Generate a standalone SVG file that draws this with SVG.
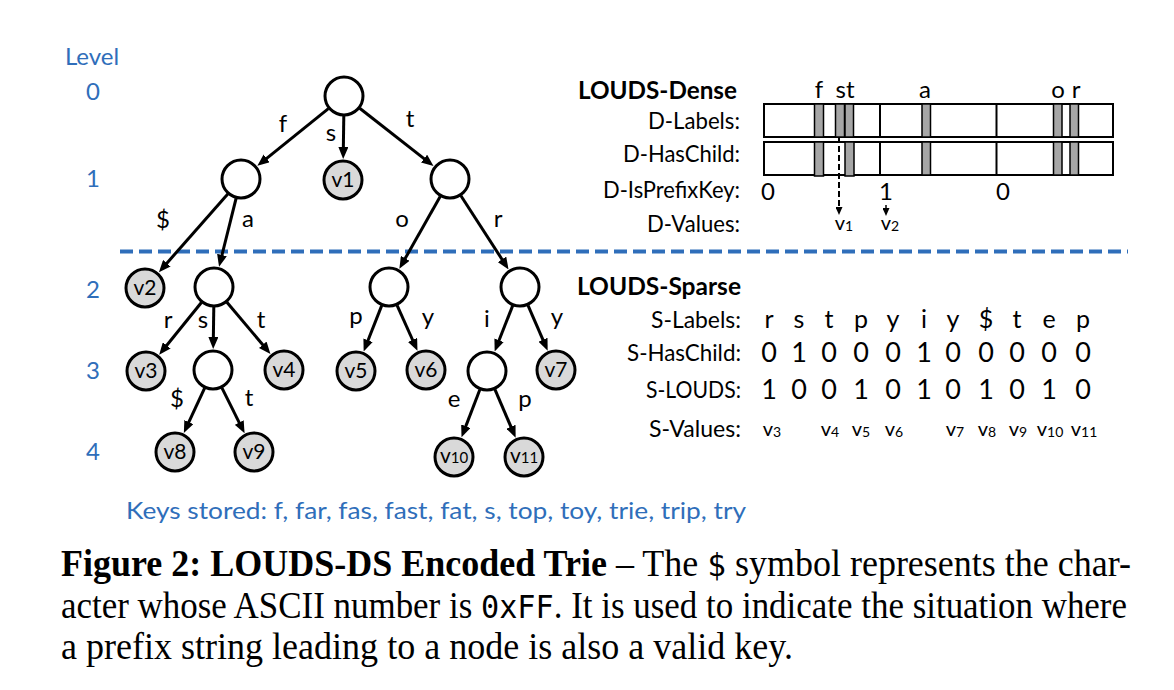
<svg xmlns="http://www.w3.org/2000/svg" width="1174" height="690" viewBox="0 0 1174 690">
<style>
.bg{fill:#ffffff}
.cal{font-family:Lato,"Liberation Sans",sans-serif;fill:#000}
.blue{fill:#2F6EBA}
.edge{stroke:#000;stroke-width:3;fill:none;marker-end:url(#ah)}
.inner{fill:#fff;stroke:#000;stroke-width:3}
.leaf{fill:#D9D9D9;stroke:#000;stroke-width:3}
.nt{font-family:Lato,"Liberation Sans",sans-serif;font-size:21px;text-anchor:middle;fill:#000}
.el{font-family:Lato,"Liberation Sans",sans-serif;font-size:24px;text-anchor:middle;fill:#000}
.lab{font-family:Lato,"Liberation Sans",sans-serif;font-size:24px;text-anchor:end;fill:#000}
.ttl{font-family:Lato,"Liberation Sans",sans-serif;font-size:25px;font-weight:bold;fill:#000}
.box{fill:#fff;stroke:#000;stroke-width:2}
.bar{fill:#A6A6A6;stroke:#000;stroke-width:1.5}
.div{stroke:#000;stroke-width:2}
.sl{font-family:Lato,"Liberation Sans",sans-serif;font-size:25px;text-anchor:middle;fill:#000}
.sd{font-family:Lato,"Liberation Sans",sans-serif;font-size:27px;text-anchor:middle;fill:#000}
.val{font-family:Lato,"Liberation Sans",sans-serif;font-size:20px;text-anchor:middle;fill:#000}
.cap{font-family:"Liberation Serif",serif;font-size:37px;fill:#000}
.mono{font-family:"DejaVu Sans Mono",monospace;font-size:32px}
</style>
<defs>
<marker id="ah" viewBox="0 0 12 10" markerWidth="12" markerHeight="10" refX="4" refY="5" orient="auto" markerUnits="userSpaceOnUse">
<path d="M0,0 L12,5 L0,10 z" fill="#000"/>
</marker>
<marker id="sah" viewBox="0 0 8 7" markerWidth="8" markerHeight="7" refX="2" refY="3.5" orient="auto" markerUnits="userSpaceOnUse">
<path d="M0,0 L8,3.5 L0,7 z" fill="#000"/>
</marker>
</defs>
<rect class="bg" x="0" y="0" width="1174" height="690"/>

<!-- Level labels -->
<g id="levels" class="cal blue" font-size="24" text-anchor="middle">
<text x="92" y="65" class="blue">Level</text>
<text x="93" y="100" class="blue">0</text>
<text x="93" y="187" class="blue">1</text>
<text x="93" y="298" class="blue">2</text>
<text x="93" y="379" class="blue">3</text>
<text x="93" y="460" class="blue">4</text>
</g>

<!-- Separator -->
<line id="separator" x1="120" y1="251.5" x2="1128" y2="251.5" stroke="#2F6EBA" stroke-width="4" stroke-dasharray="13,6"/>

<!-- Connectors -->
<g id="connectors">
<line class="edge" x1="328.4" y1="108.6" x2="263.6" y2="160.8"/>
<line class="edge" x1="343.8" y1="116" x2="343.3" y2="151"/>
<line class="edge" x1="359.7" y1="108.3" x2="427.2" y2="161.1"/>
<line class="edge" x1="227.8" y1="194" x2="164.2" y2="266.2"/>
<line class="edge" x1="236.1" y1="198.4" x2="221" y2="258.9"/>
<line class="edge" x1="440.2" y1="196.4" x2="403.3" y2="261.8"/>
<line class="edge" x1="460.9" y1="195.8" x2="504.2" y2="262.7"/>
<line class="edge" x1="201.4" y1="302.5" x2="164.2" y2="348.5"/>
<line class="edge" x1="213.8" y1="307" x2="213.3" y2="341"/>
<line class="edge" x1="226.9" y1="302.3" x2="265.3" y2="347.8"/>
<line class="edge" x1="381.7" y1="305.6" x2="366.6" y2="344"/>
<line class="edge" x1="397.1" y1="305.3" x2="414.2" y2="343.5"/>
<line class="edge" x1="512.7" y1="305.6" x2="497.6" y2="344"/>
<line class="edge" x1="528" y1="305.3" x2="544.5" y2="343.4"/>
<line class="edge" x1="204.6" y1="388.1" x2="187.2" y2="425.7"/>
<line class="edge" x1="221.9" y1="387.9" x2="241" y2="426.1"/>
<line class="edge" x1="479.8" y1="389.7" x2="464.4" y2="429.9"/>
<line class="edge" x1="494.9" y1="389.4" x2="512.5" y2="430.4"/>
</g>

<!-- Edge labels -->
<g id="edge-labels" class="el">
<text class="el" x="283" y="132">f</text>
<text class="el" x="331" y="141">s</text>
<text class="el" x="410" y="127">t</text>
<text class="el" x="163" y="228">$</text>
<text class="el" x="248" y="227">a</text>
<text class="el" x="402" y="227">o</text>
<text class="el" x="498" y="227">r</text>
<text class="el" x="168" y="328">r</text>
<text class="el" x="203" y="328">s</text>
<text class="el" x="261" y="328">t</text>
<text class="el" x="356" y="324">p</text>
<text class="el" x="428" y="325">y</text>
<text class="el" x="487" y="327">i</text>
<text class="el" x="557" y="325">y</text>
<text class="el" x="177" y="407">$</text>
<text class="el" x="249" y="406">t</text>
<text class="el" x="454" y="407">e</text>
<text class="el" x="525" y="407">p</text>
</g>

<!-- Nodes -->
<g id="n-root"><circle class="inner" cx="344" cy="96" r="19"/></g>
<g id="n-f"><circle class="inner" cx="241" cy="179" r="19"/></g>
<g id="n-v1"><circle class="leaf" cx="343" cy="180" r="19"/><text class="nt" x="343" y="187">v1</text></g>
<g id="n-t"><circle class="inner" cx="450" cy="179" r="19"/></g>
<g id="n-v2"><circle class="leaf" cx="145" cy="288" r="19"/><text class="nt" x="145" y="295">v2</text></g>
<g id="n-fa"><circle class="inner" cx="214" cy="287" r="19"/></g>
<g id="n-to"><circle class="inner" cx="389" cy="287" r="19"/></g>
<g id="n-tr"><circle class="inner" cx="520" cy="287" r="19"/></g>
<g id="n-v3"><circle class="leaf" cx="146" cy="371" r="19"/><text class="nt" x="146" y="378">v3</text></g>
<g id="n-fas"><circle class="inner" cx="213" cy="370" r="19"/></g>
<g id="n-v4"><circle class="leaf" cx="284" cy="370" r="19"/><text class="nt" x="284" y="377">v4</text></g>
<g id="n-v5"><circle class="leaf" cx="356" cy="371" r="19"/><text class="nt" x="356" y="378">v5</text></g>
<g id="n-v6"><circle class="leaf" cx="426" cy="370" r="19"/><text class="nt" x="426" y="377">v6</text></g>
<g id="n-tri"><circle class="inner" cx="487" cy="371" r="19"/></g>
<g id="n-v7"><circle class="leaf" cx="556" cy="370" r="19"/><text class="nt" x="556" y="377">v7</text></g>
<g id="n-v8"><circle class="leaf" cx="175" cy="452" r="19"/><text class="nt" x="175" y="459">v8</text></g>
<g id="n-v9"><circle class="leaf" cx="254" cy="452" r="19"/><text class="nt" x="254" y="459">v9</text></g>
<g id="n-v10"><circle class="leaf" cx="454" cy="457" r="19"/><text class="nt" x="454" y="463">v<tspan font-size="15">10</tspan></text></g>
<g id="n-v11"><circle class="leaf" cx="524" cy="457" r="19"/><text class="nt" x="524" y="463">v<tspan font-size="15">11</tspan></text></g>

<!-- LOUDS-Dense -->
<g id="louds-dense">
<text class="ttl" x="578" y="99" textLength="159" lengthAdjust="spacingAndGlyphs">LOUDS-Dense</text>
<text class="lab" x="740" y="129" textLength="92" lengthAdjust="spacingAndGlyphs">D-Labels:</text>
<text class="lab" x="740" y="162" textLength="117" lengthAdjust="spacingAndGlyphs">D-HasChild:</text>
<text class="lab" x="740" y="198" textLength="137" lengthAdjust="spacingAndGlyphs">D-IsPrefixKey:</text>
<text class="lab" x="740" y="232" textLength="93" lengthAdjust="spacingAndGlyphs">D-Values:</text>
<g class="el">
<text class="el" x="819" y="98">f</text>
<text class="el" x="845" y="98">st</text>
<text class="el" x="925" y="98">a</text>
<text class="el" x="1058" y="98">o</text>
<text class="el" x="1076" y="98">r</text>
</g>
<rect class="box" x="764" y="104" width="349" height="33"/>
<line class="div" x1="880" y1="104" x2="880" y2="137"/>
<line class="div" x1="996.5" y1="104" x2="996.5" y2="137"/>
<rect class="bar" x="814.5" y="104" width="9" height="33"/>
<rect class="bar" x="835.5" y="104" width="9" height="33"/>
<rect class="bar" x="845" y="104" width="8.5" height="33"/>
<rect class="bar" x="922" y="104" width="8.5" height="33"/>
<rect class="bar" x="1053.5" y="104" width="8.5" height="33"/>
<rect class="bar" x="1070" y="104" width="8.5" height="33"/>
<rect class="box" x="764" y="142" width="349" height="33"/>
<line class="div" x1="880" y1="142" x2="880" y2="175"/>
<line class="div" x1="996.5" y1="142" x2="996.5" y2="175"/>
<rect class="bar" x="814.5" y="142" width="9" height="34"/>
<rect class="bar" x="845" y="142" width="9" height="34"/>
<rect class="bar" x="922" y="142" width="8.5" height="33"/>
<rect class="bar" x="1053.5" y="142" width="8.5" height="33"/>
<rect class="bar" x="1070" y="142" width="8.5" height="33"/>
<g class="el">
<text class="el" x="768" y="200">0</text>
<text class="el" x="886" y="200">1</text>
<text class="el" x="1003" y="200">0</text>
</g>
<line x1="839" y1="137" x2="839" y2="209" stroke="#000" stroke-width="2" stroke-dasharray="6,3" marker-end="url(#sah)"/>
<line x1="886" y1="205" x2="886" y2="210" stroke="#000" stroke-width="1.5" marker-end="url(#sah)"/>
<text class="val" x="844" y="230">v<tspan font-size="14" dy="1">1</tspan></text>
<text class="val" x="890" y="230">v<tspan font-size="14" dy="1">2</tspan></text>
</g>

<!-- LOUDS-Sparse -->
<g id="louds-sparse">
<text class="ttl" x="577" y="295" textLength="164" lengthAdjust="spacingAndGlyphs">LOUDS-Sparse</text>
<text class="lab" x="741" y="328" textLength="90" lengthAdjust="spacingAndGlyphs">S-Labels:</text>
<text class="lab" x="741" y="361" textLength="114" lengthAdjust="spacingAndGlyphs">S-HasChild:</text>
<text class="lab" x="741" y="398" textLength="95" lengthAdjust="spacingAndGlyphs">S-LOUDS:</text>
<text class="lab" x="741" y="437" textLength="92" lengthAdjust="spacingAndGlyphs">S-Values:</text>
<g class="sl">
<text class="sl" x="769" y="328">r</text>
<text class="sl" x="799" y="328">s</text>
<text class="sl" x="829" y="328">t</text>
<text class="sl" x="861" y="328">p</text>
<text class="sl" x="893" y="328">y</text>
<text class="sl" x="924" y="328">i</text>
<text class="sl" x="953" y="328">y</text>
<text class="sl" x="986" y="328">$</text>
<text class="sl" x="1017" y="328">t</text>
<text class="sl" x="1049" y="328">e</text>
<text class="sl" x="1083" y="328">p</text>
</g>
<g class="sd">
<text class="sd" x="769" y="362">0</text>
<text class="sd" x="799" y="362">1</text>
<text class="sd" x="829" y="362">0</text>
<text class="sd" x="861" y="362">0</text>
<text class="sd" x="893" y="362">0</text>
<text class="sd" x="924" y="362">1</text>
<text class="sd" x="953" y="362">0</text>
<text class="sd" x="986" y="362">0</text>
<text class="sd" x="1017" y="362">0</text>
<text class="sd" x="1049" y="362">0</text>
<text class="sd" x="1083" y="362">0</text>
</g>
<g class="sd">
<text class="sd" x="769" y="399">1</text>
<text class="sd" x="799" y="399">0</text>
<text class="sd" x="829" y="399">0</text>
<text class="sd" x="861" y="399">1</text>
<text class="sd" x="893" y="399">0</text>
<text class="sd" x="924" y="399">1</text>
<text class="sd" x="953" y="399">0</text>
<text class="sd" x="986" y="399">1</text>
<text class="sd" x="1017" y="399">0</text>
<text class="sd" x="1049" y="399">1</text>
<text class="sd" x="1083" y="399">0</text>
</g>
<g class="val">
<text class="val" x="772" y="436">v<tspan font-size="14" dy="1">3</tspan></text>
<text class="val" x="830" y="436">v<tspan font-size="14" dy="1">4</tspan></text>
<text class="val" x="861" y="436">v<tspan font-size="14" dy="1">5</tspan></text>
<text class="val" x="894" y="436">v<tspan font-size="14" dy="1">6</tspan></text>
<text class="val" x="955" y="436">v<tspan font-size="14" dy="1">7</tspan></text>
<text class="val" x="987" y="436">v<tspan font-size="14" dy="1">8</tspan></text>
<text class="val" x="1018" y="436">v<tspan font-size="14" dy="1">9</tspan></text>
<text class="val" x="1050" y="436">v<tspan font-size="14" dy="1">10</tspan></text>
<text class="val" x="1084" y="436">v<tspan font-size="14" dy="1">11</tspan></text>
</g>
</g>

<!-- Keys stored -->
<text id="keys" class="cal blue" x="126" y="519" font-size="23" textLength="620" lengthAdjust="spacingAndGlyphs">Keys stored: f, far, fas, fast, fat, s, top, toy, trie, trip, try</text>

<!-- Caption -->
<g id="caption">
<text class="cap" x="61" y="576" textLength="1070" lengthAdjust="spacingAndGlyphs"><tspan font-weight="bold">Figure 2: LOUDS-DS Encoded Trie</tspan> – The <tspan class="mono">$</tspan> symbol represents the char-</text>
<text class="cap" x="61" y="618" textLength="1066" lengthAdjust="spacingAndGlyphs">acter whose ASCII number is <tspan class="mono">0xFF</tspan>. It is used to indicate the situation where</text>
<text class="cap" x="61" y="659" textLength="732" lengthAdjust="spacingAndGlyphs">a prefix string leading to a node is also a valid key.</text>
</g>
</svg>
